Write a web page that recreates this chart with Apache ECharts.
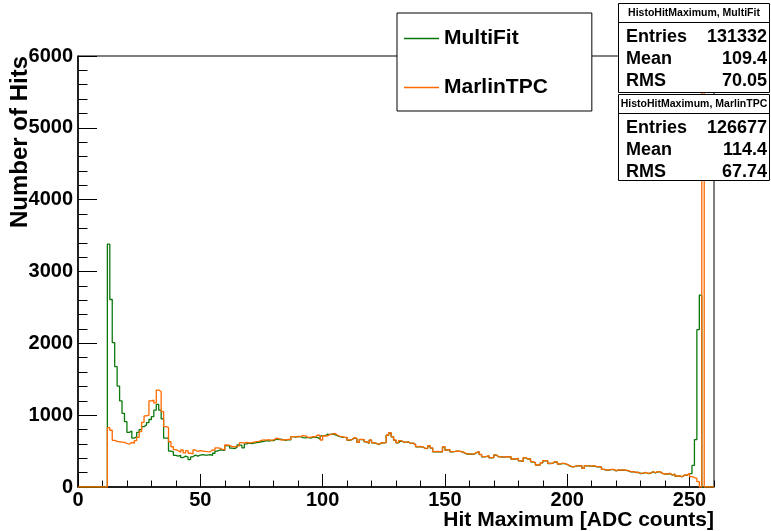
<!DOCTYPE html>
<html><head><meta charset="utf-8">
<script src="https://cdn.jsdelivr.net/npm/echarts/dist/echarts.min.js"></script>
<style>html,body{margin:0;padding:0;background:#fff}#c{width:771px;height:531px}</style>
</head><body><div id="c"></div>
<script>
// ---- data ----
const xMin = 0, xMax = 260, binWidth = 1;
const yMin = 0, yMax = 6000;
const xTickLabels = ['0','50','100','150','200','250'];
const yTickLabels = ['0','1000','2000','3000','4000','5000','6000'];
const seriesNames = ['MultiFit','MarlinTPC'];
// bin contents, bins [i, i+1), i = 0..259
const multiFit = [
0,0,0,0,0,0,0,0,0,0,
0,0,3380,2610,2010,1675,1405,1200,1025,910,
760,780,680,700,760,800,840,865,895,940,
980,1070,1150,1070,950,680,680,500,490,440,
430,440,410,430,415,380,420,445,430,445,
450,445,445,450,440,470,500,515,515,510,
575,570,540,535,552,585,580,545,600,610,
605,612,617,620,630,635,645,640,650,645,
665,660,668,655,650,660,655,700,695,705,
700,688,685,690,682,692,695,688,665,712,
714,735,730,738,728,715,700,695,690,688,
650,658,684,675,620,660,658,628,605,650,
615,606,590,612,614,618,720,752,698,650,
615,642,628,620,628,605,610,590,560,562,
558,535,538,572,542,490,492,490,488,558,
512,520,490,492,498,495,490,476,458,460,
456,458,480,490,452,420,422,434,405,408,
444,420,418,416,420,418,422,388,390,397,
365,355,405,388,390,350,337,304,308,336,
364,363,327,328,350,348,318,327,326,313,
295,281,283,295,293,295,258,295,293,288,
294,281,280,278,244,235,236,243,242,225,
235,233,235,232,225,211,213,202,203,188,
190,202,188,190,210,198,211,210,188,179,
181,188,165,179,151,153,142,165,163,185,
185,300,660,2190,2670,0,0,0,0,0
];
const marlinTPC = [
0,0,0,0,0,0,0,0,0,0,
0,0,826,790,650,635,630,626,622,608,
595,622,608,645,690,770,900,990,1000,1200,
1210,1170,1350,1330,1050,840,830,630,560,520,
505,485,515,475,505,470,460,515,495,505,
500,495,492,490,515,512,545,540,525,520,
585,580,562,560,570,572,617,612,620,615,
618,625,631,635,650,655,652,658,650,655,
678,675,654,658,656,663,665,700,702,698,
705,714,712,690,692,700,698,724,720,654,
710,712,733,735,747,724,705,700,692,690,
654,660,686,677,622,663,660,631,608,654,
617,608,594,617,615,620,724,756,700,654,
617,645,631,622,631,608,612,594,562,565,
560,538,540,575,545,492,495,492,490,562,
515,524,492,495,500,498,492,478,460,462,
458,460,483,492,455,422,425,436,408,410,
446,422,420,418,422,420,424,390,392,399,
367,357,408,390,392,353,339,306,310,339,
367,365,329,330,353,350,320,329,328,315,
297,283,285,297,295,297,260,297,295,290,
297,283,283,280,246,237,238,246,245,227,
237,236,237,235,227,213,215,204,205,190,
192,204,190,192,213,200,213,212,190,181,
183,190,167,181,153,155,144,167,165,190,
144,130,121,74,0,7600,0,0,0,0
];
const statTitles = ['HistoHitMaximum, MultiFit','HistoHitMaximum, MarlinTPC'];
const statLabels = ['Entries','Mean','RMS'];
const statMultiFit = ['131332','109.4','70.05'];
const statMarlin = ['126677','114.4','67.74'];

// ---- chart ----
const FONT = '"Liberation Sans", Arial, sans-serif';
const GREEN = '#0b780b', ORANGE = '#ff6a00';
function toPts(vals){
  const pts = vals.map((v,i)=>[xMin + i*binWidth, v]);
  pts.push([xMin + vals.length*binWidth, vals[vals.length-1]]);
  return pts;
}
function statBox(y0, h, title, vals){
  const els = [];
  els.push({type:'rect', z:100, shape:{x:618.5,y:y0+0.5,width:151,height:h}, style:{fill:'#fff',stroke:'#000',lineWidth:1}});
  els.push({type:'text', z:101, x:694, y:y0+10, style:{text:title, font:'bold 10.5px '+FONT, fill:'#000', align:'center', verticalAlign:'middle', textAlign:'center', textVerticalAlign:'middle'}});
  els.push({type:'line', z:101, shape:{x1:618.5,y1:y0+19.5,x2:769.5,y2:y0+19.5}, style:{stroke:'#000',lineWidth:1}});
  const rows = [y0+34, y0+56, y0+78];
  for (let i=0;i<3;i++){
    els.push({type:'text', z:101, x:626, y:rows[i], style:{text:statLabels[i], font:'bold 18px '+FONT, fill:'#000', align:'left', verticalAlign:'middle', textAlign:'left', textVerticalAlign:'middle'}});
    els.push({type:'text', z:101, x:767, y:rows[i], style:{text:vals[i], font:'bold 18px '+FONT, fill:'#000', align:'right', verticalAlign:'middle', textAlign:'right', textVerticalAlign:'middle'}});
  }
  return els;
}
const chart = echarts.init(document.getElementById('c'), null, {renderer:'canvas'});
const graphics = [].concat(
  statBox(3, 89, statTitles[0], statMultiFit),
  statBox(94, 86, statTitles[1], statMarlin),
  [
    {type:'text', z:50, x:714, y:520, style:{text:'Hit Maximum [ADC counts]', font:'bold 21px '+FONT, fill:'#000', align:'right', verticalAlign:'middle', textAlign:'right', textVerticalAlign:'middle'}},
    {type:'text', z:50, x:20, y:56, rotation:Math.PI/2, style:{text:'Number of Hits', font:'bold 24px '+FONT, fill:'#000', align:'right', verticalAlign:'middle', textAlign:'right', textVerticalAlign:'middle'}}
  ]
);
chart.setOption({
  animation:false,
  backgroundColor:'#fff',
  grid:{left:78, right:57, top:56, bottom:44, show:true, borderColor:'#000', borderWidth:1, backgroundColor:'transparent', containLabel:false, outerBoundsMode:'none'},
  legend:{
    data:[{name:seriesNames[0], icon:'rect', itemStyle:{color:GREEN}}, {name:seriesNames[1], icon:'rect', itemStyle:{color:ORANGE}}],
    left:397, top:13, orient:'vertical',
    backgroundColor:'#fff', borderColor:'#000', borderWidth:1, borderRadius:0,
    padding:[15,44,13,7], itemGap:28, itemWidth:35, itemHeight:1.3,
    textStyle:{fontFamily:FONT, fontWeight:'bold', fontSize:21, color:'#000', lineHeight:16},
    z:10
  },
  xAxis:[
    {type:'value', min:xMin, max:xMax, interval:50, position:'bottom',
     axisLine:{show:true, onZero:false, lineStyle:{color:'#000', width:1.5}},
     axisTick:{show:true, inside:true, length:13, lineStyle:{color:'#000', width:1}},
     axisLabel:{show:true, color:'#000', fontFamily:FONT, fontWeight:'bold', fontSize:20, margin:3, showMaxLabel:false,
       formatter:(v)=>{ const i = Math.round(v/50); return (v%50===0 && i<xTickLabels.length) ? xTickLabels[i] : ''; }},
     splitLine:{show:false}},
    {type:'value', min:xMin, max:xMax, interval:10, position:'bottom', gridIndex:0,
     axisLine:{show:false},
     axisTick:{show:true, inside:true, length:6.5, lineStyle:{color:'#000', width:1}},
     axisLabel:{show:false}, splitLine:{show:false}}
  ],
  yAxis:{type:'value', min:yMin, max:yMax, interval:1000,
    axisLine:{show:true, onZero:false, lineStyle:{color:'#000', width:1.5}},
    axisTick:{show:true, inside:true, length:19, lineStyle:{color:'#000', width:1}},
    minorTick:{show:true, splitNumber:5, length:9.5, lineStyle:{color:'#000', width:1}},
    axisLabel:{color:'#000', fontFamily:FONT, fontWeight:'bold', fontSize:20, margin:5,
      formatter:(v)=>yTickLabels[Math.round(v/1000)]},
    splitLine:{show:false}, minorSplitLine:{show:false}},
  series:[
    {name:seriesNames[0], type:'line', step:'end', data:toPts(multiFit), symbol:'none', clip:true,
     lineStyle:{color:GREEN, width:1.3}, itemStyle:{color:GREEN}, z:2},
    {name:seriesNames[1], type:'line', step:'end', data:toPts(marlinTPC), symbol:'none', clip:true,
     lineStyle:{color:ORANGE, width:1.3}, itemStyle:{color:ORANGE}, z:3}
  ],
  graphic:graphics
});
</script></body></html>
